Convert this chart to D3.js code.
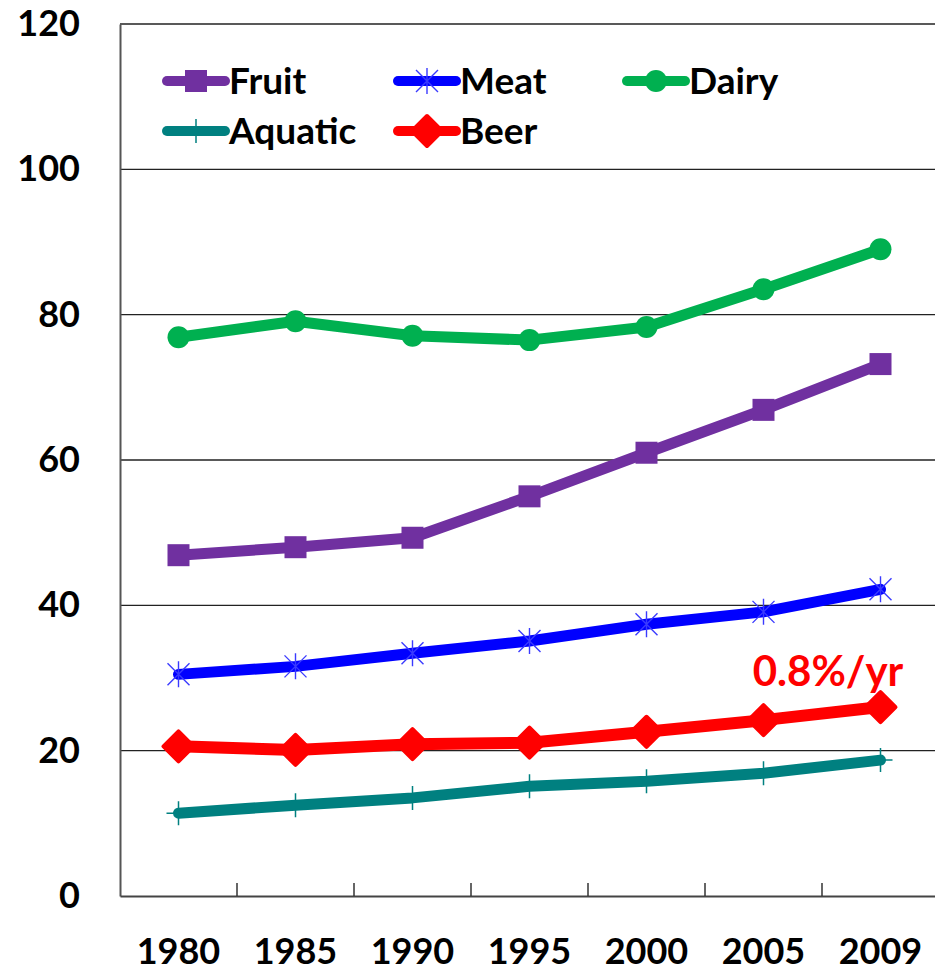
<!DOCTYPE html>
<html>
<head>
<meta charset="utf-8">
<script src="https://cdn.jsdelivr.net/npm/d3@7"></script>
<style>
  body { margin: 0; background: #fff; }
  text { font-family: Lato, "Open Sans", sans-serif; font-weight: bold; }
</style>
</head>
<body>
<script>
// data
var years = ["1980", "1985", "1990", "1995", "2000", "2005", "2009"];
var fruit   = [46.9, 48.0, 49.3, 55.0, 61.0, 66.9, 73.2];
var meat    = [30.5, 31.6, 33.4, 35.1, 37.4, 39.1, 42.2];
var dairy   = [76.9, 79.1, 77.1, 76.5, 78.3, 83.5, 89.0];
var aquatic = [11.4, 12.5, 13.5, 15.1, 15.8, 16.9, 18.7];
var beer    = [20.6, 20.1, 20.9, 21.1, 22.6, 24.2, 26.0];
var yTicks  = [0, 20, 40, 60, 80, 100, 120];

var width = 935, height = 971;
var plotLeft = 120, plotRight = 939, plotTop = 24, plotBottom = 896;

var svg = d3.select("body").append("svg")
    .attr("width", width)
    .attr("height", height);

var x = d3.scaleBand().domain(years).range([plotLeft, plotRight]).padding(0);
var y = d3.scaleLinear().domain([0, 120]).range([plotBottom, plotTop]);
var cx = function (i) { return x(years[i]) + x.bandwidth() / 2; };

// gridlines
svg.append("g").selectAll("line")
    .data(yTicks.filter(function (d) { return d > 0; }))
    .enter().append("line")
    .attr("x1", plotLeft).attr("x2", width)
    .attr("y1", function (d) { return y(d); })
    .attr("y2", function (d) { return y(d); })
    .attr("stroke", "#222").attr("stroke-width", 1.3);

// y axis
var yAxis = svg.append("g")
    .attr("transform", "translate(" + plotLeft + ",0)")
    .call(d3.axisLeft(y).tickValues(yTicks).tickSize(0).tickPadding(40));
yAxis.select(".domain").attr("stroke", "#555").attr("stroke-width", 2);
yAxis.selectAll("text").attr("font-size", 36).attr("fill", "#000")
    .attr("font-family", "Lato").attr("font-weight", "bold");

// x axis
var xAxis = svg.append("g")
    .attr("transform", "translate(0," + plotBottom + ")")
    .call(d3.axisBottom(x).tickSize(0).tickPadding(42));
xAxis.select(".domain").attr("stroke", "#444").attr("stroke-width", 2.2);
xAxis.selectAll("text").attr("font-size", 36).attr("fill", "#000")
    .attr("font-family", "Lato").attr("font-weight", "bold");
svg.append("g").selectAll("line")
    .data(years.slice(1))
    .enter().append("line")
    .attr("x1", function (d) { return x(d); })
    .attr("x2", function (d) { return x(d); })
    .attr("y1", plotBottom).attr("y2", plotBottom - 13)
    .attr("stroke", "#333").attr("stroke-width", 1.5);

var series = [
    { name: "Aquatic", values: aquatic, color: "#008080", marker: "plus", w: 11 },
    { name: "Beer", values: beer, color: "#FF0000", marker: "diamond", w: 12 },
    { name: "Meat", values: meat, color: "#0000FF", marker: "star", w: 11 },
    { name: "Fruit", values: fruit, color: "#7030A0", marker: "square", w: 11 },
    { name: "Dairy", values: dairy, color: "#00B050", marker: "circle", w: 11 }
];

function drawMarker(g, type, color, px, py) {
    if (type === "square") {
        g.append("rect").attr("x", px - 11).attr("y", py - 11)
            .attr("width", 22).attr("height", 22).attr("fill", color);
    } else if (type === "circle") {
        g.append("circle").attr("cx", px).attr("cy", py).attr("r", 11).attr("fill", color);
    } else if (type === "diamond") {
        g.append("path")
            .attr("d", "M" + px + "," + (py - 15) + " L" + (px + 15) + "," + py +
                " L" + px + "," + (py + 15) + " L" + (px - 15) + "," + py + "Z")
            .attr("fill", color).attr("stroke", color).attr("stroke-width", 4)
            .attr("stroke-linejoin", "round");
    } else if (type === "star") {
        var s = 13, t = 11;
        g.append("path")
            .attr("d", "M" + px + "," + (py - s) + " V" + (py + s) +
                " M" + (px - t) + "," + (py - t) + " L" + (px + t) + "," + (py + t) +
                " M" + (px - t) + "," + (py + t) + " L" + (px + t) + "," + (py - t))
            .attr("stroke", "#3a3aff").attr("stroke-width", 1.4).attr("fill", "none");
    } else if (type === "plus") {
        g.append("path")
            .attr("d", "M" + px + "," + (py - 12) + " V" + (py + 12) +
                " M" + (px - 12) + "," + py + " H" + (px + 12))
            .attr("stroke", color).attr("stroke-width", 1.5).attr("fill", "none");
    }
}

var line = d3.line()
    .x(function (d, i) { return cx(i); })
    .y(function (d) { return y(d); });

series.forEach(function (s) {
    var g = svg.append("g");
    g.append("path")
        .attr("d", line(s.values))
        .attr("fill", "none")
        .attr("stroke", s.color)
        .attr("stroke-width", s.w)
        .attr("stroke-linejoin", "round")
        .attr("stroke-linecap", "round");
    s.values.forEach(function (v, i) {
        drawMarker(g, s.marker, s.color, cx(i), y(v));
    });
});

// annotation
svg.append("text")
    .attr("x", 828).attr("y", 686)
    .attr("text-anchor", "middle")
    .attr("font-size", 42)
    .attr("fill", "#FF0000")
    .text("0.8%/yr");

// legend
var legendItems = [
    { name: "Fruit", color: "#7030A0", marker: "square", lx: 167, ly: 81 },
    { name: "Meat", color: "#0000FF", marker: "star", lx: 398, ly: 81 },
    { name: "Dairy", color: "#00B050", marker: "circle", lx: 627, ly: 81 },
    { name: "Aquatic", color: "#008080", marker: "plus", lx: 167, ly: 131 },
    { name: "Beer", color: "#FF0000", marker: "diamond", lx: 398, ly: 131 }
];
legendItems.forEach(function (d) {
    var g = svg.append("g");
    g.append("line")
        .attr("x1", d.lx).attr("x2", d.lx + 58)
        .attr("y1", d.ly).attr("y2", d.ly)
        .attr("stroke", d.color).attr("stroke-width", 10)
        .attr("stroke-linecap", "round");
    drawMarker(g, d.marker, d.color, d.lx + 29, d.ly);
    g.append("text")
        .attr("x", d.lx + 62).attr("y", d.ly + 13)
        .attr("font-size", 37).attr("fill", "#000")
        .text(d.name);
});
</script>
</body>
</html>
